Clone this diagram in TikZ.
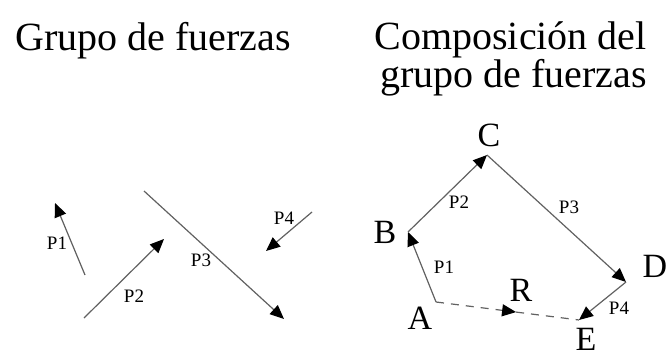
\documentclass[tikz,border=0pt]{standalone}
\usepackage{fontspec}
\setmainfont{Liberation Serif}
\usetikzlibrary{arrows.meta,calc}

\begin{document}
\begin{tikzpicture}[x=1pt,y=-1pt,>={Triangle[length=14pt,width=12pt,color=black]},
  force/.style={draw=black!62,line width=1.2pt,->},
  plabel/.style={inner sep=0pt,font=\fontsize{19}{19}\selectfont},
  point/.style={inner sep=0pt,font=\fontsize{34}{34}\selectfont},
  title/.style={inner sep=0pt,font=\fontsize{40}{40}\selectfont}]
\useasboundingbox (0,0) rectangle (668,358);
% titles
\node[title,anchor=base west] (grupo) at (15,51) {Grupo de fuerzas};
\node[title,anchor=base east] (comp) at (647,50) {Composición del};
\node[title,anchor=base east] (compb) at (647,88) {grupo de fuerzas};
% group of forces
\coordinate (f1a) at (85,275); \coordinate (f1b) at (55,203);
\coordinate (f2a) at (84,318); \coordinate (f2b) at (164,239);
\coordinate (f3a) at (144,191); \coordinate (f3b) at (284,319);
\coordinate (f4a) at (312,212); \coordinate (f4b) at (266,251);
\draw[force] (f1a) -- (f1b);
\draw[force] (f2a) -- (f2b);
\draw[force] (f3a) -- (f3b);
\draw[force] (f4a) -- (f4b);
\node[plabel] (l1) at (57,243) {P1};
\node[plabel] (l2) at (134,296) {P2};
\node[plabel] (l3) at (201,260) {P3};
\node[plabel] (l4) at (284,218) {P4};
% composition
\coordinate (A) at (436,302); \coordinate (B) at (408,232);
\coordinate (C) at (487,155); \coordinate (D) at (626,282);
\coordinate (E) at (579,320);
\coordinate (R) at ($(A)!0.56!(E)$);
\draw[force] (A) -- (B);
\draw[force] (B) -- (C);
\draw[force] (C) -- (D);
\draw[force] (D) -- (E);
\draw[force,dash pattern=on 8pt off 7pt] (A) -- (R);
\draw[draw=black!62,line width=1.2pt,dash pattern=on 8pt off 7pt] (R) -- (E);
\node[point] (nA) at (420,318) {A};
\node[point] (nB) at (385,232) {B};
\node[point] (nC) at (489,135) {C};
\node[point] (nD) at (655,266) {D};
\node[point] (nE) at (586,339) {E};
\node[point] (nR) at (521,290) {R};
\node[plabel] (m1) at (444,267) {P1};
\node[plabel] (m2) at (459,202) {P2};
\node[plabel] (m3) at (569,207) {P3};
\node[plabel] (m4) at (619,308) {P4};
\end{tikzpicture}
\end{document}
